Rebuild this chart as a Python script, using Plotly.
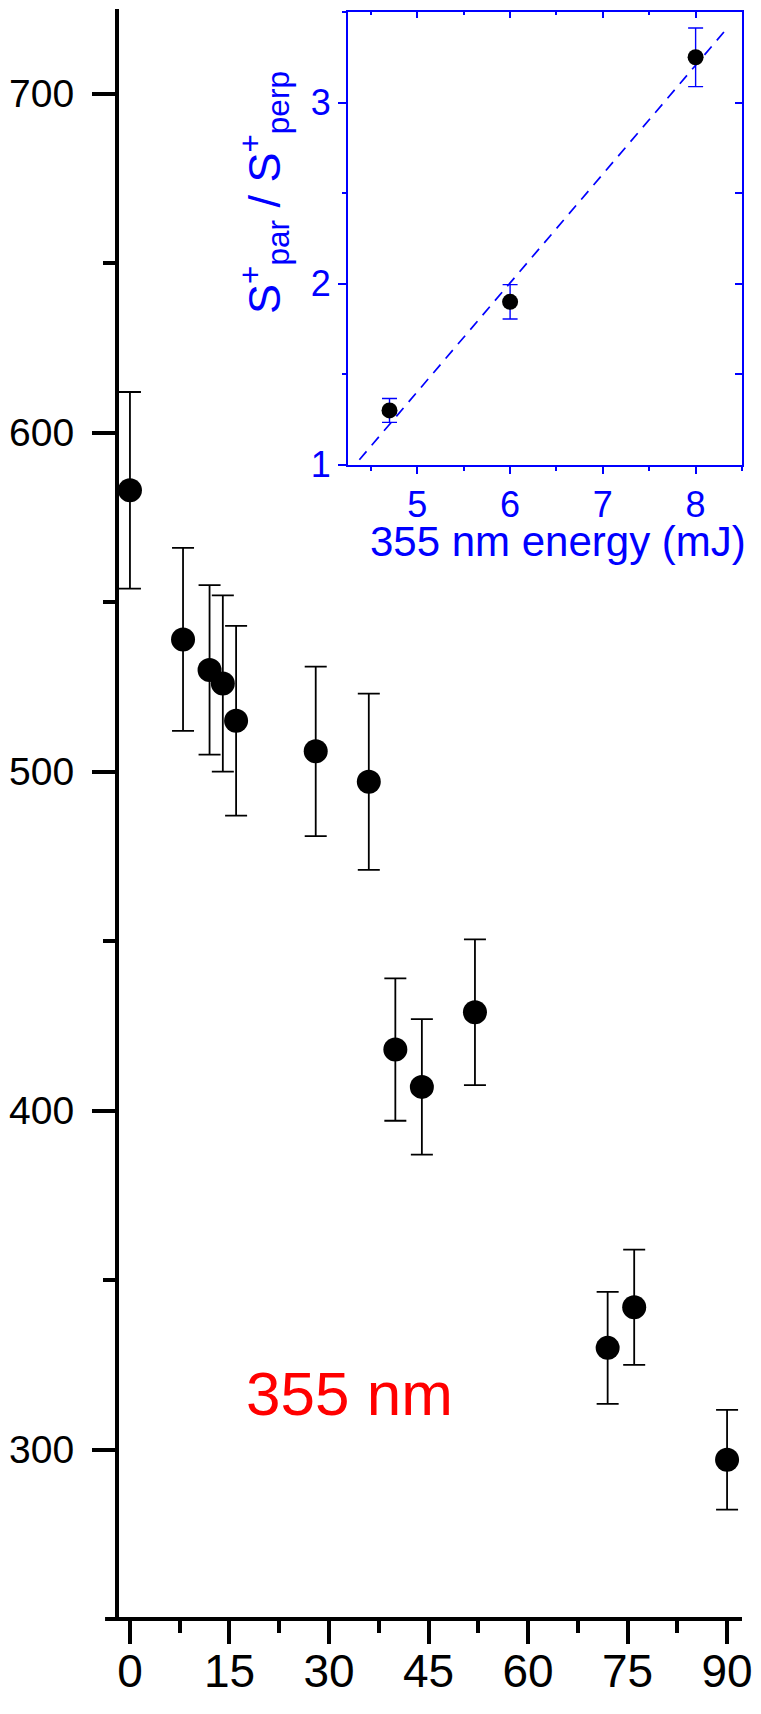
import plotly.graph_objects as go

# ---- main panel data ----
angle = [0, 8, 12, 14, 16, 28, 36, 40, 44, 52, 72, 76, 90]
signal = [583, 539, 530, 526, 515, 506, 497, 418, 407, 429, 330, 342, 297]
signal_err = [29, 27, 25, 26, 28, 25, 26, 21, 20, 21.5, 16.5, 17, 14.7]

x_ticks = [0, 15, 30, 45, 60, 75, 90]
y_ticks = [300, 400, 500, 600, 700]

# ---- inset data ----
energy = [4.7, 6.0, 8.0]
ratio = [1.30, 1.90, 3.25]
ratio_err = [0.066, 0.095, 0.162]
fit_energy = [4.375, 8.333]
fit_ratio = [1.028, 3.406]

inset_x_ticks = [5, 6, 7, 8]
inset_y_ticks = [1, 2, 3]

BLUE = "#0000ff"
OFF = 8                       # default page margin of the html body
W, H = 761 - OFF, 1714 - OFF  # figure size so that the page fits the window
L, R, T, B = 117, 742, 9, 1617  # plot area in window pixels


def px(x):
    return (x - L) / (R - L)


def py(y):
    return (B - y) / (B - T)


fig = go.Figure()

fig.add_trace(go.Scatter(
    x=angle, y=signal, mode="markers",
    marker=dict(size=24, color="black"),
    error_y=dict(type="data", array=signal_err, color="black", thickness=1.8, width=11),
    xaxis="x", yaxis="y", showlegend=False, cliponaxis=False,
))

fig.add_trace(go.Scatter(
    x=fit_energy, y=fit_ratio, mode="lines",
    line=dict(color=BLUE, width=1.7, dash="11px,8px"),
    xaxis="x2", yaxis="y2", showlegend=False,
))
fig.add_trace(go.Scatter(
    x=energy, y=ratio, mode="markers",
    marker=dict(size=16, color="black"),
    error_y=dict(type="data", array=ratio_err, color=BLUE, thickness=1.4, width=7.5),
    xaxis="x2", yaxis="y2", showlegend=False, cliponaxis=False,
))
# invisible trace for the mirrored (inside-tick) inset axes
fig.add_trace(go.Scatter(
    x=[energy[0]], y=[ratio[0]], mode="markers", marker=dict(opacity=0),
    xaxis="x3", yaxis="y3", showlegend=False, hoverinfo="skip",
))

FONT = "Liberation Sans, Arial, sans-serif"
main_tick_font_y = dict(family=FONT, size=39, color="black")
main_tick_font_x = dict(family=FONT, size=46, color="black")
inset_font = dict(family=FONT, size=36, color=BLUE)

inset_xr = [4.25, 8.5]
inset_yr = [1, 3.5]
inset_line = dict(showline=True, linewidth=1.8, linecolor=BLUE, showgrid=False, zeroline=False)

fig.update_layout(
    width=W, height=H,
    margin=dict(l=L - OFF, r=W - (R - OFF), t=T - OFF, b=H - (B - OFF), pad=0),
    paper_bgcolor="white", plot_bgcolor="rgba(0,0,0,0)",
    xaxis=dict(
        domain=[0, 1], range=[-1.65, 92.25], anchor="y",
        tickvals=x_ticks, ticktext=[str(v) for v in x_ticks],
        ticks="outside", ticklen=23, tickwidth=4, tickcolor="black",
        showline=True, linewidth=4, linecolor="black",
        showgrid=False, zeroline=False, tickfont=main_tick_font_x,
        ticklabelstandoff=-12,
        minor=dict(ticks="outside", ticklen=12, tickwidth=4, tickcolor="black", dtick=7.5, tick0=0),
    ),
    yaxis=dict(
        domain=[0, 1], range=[250.6, 725], anchor="x",
        tickvals=y_ticks, ticktext=[str(v) for v in y_ticks],
        ticks="outside", ticklen=23, tickwidth=4, tickcolor="black",
        showline=True, linewidth=4, linecolor="black",
        showgrid=False, zeroline=False, tickfont=main_tick_font_y,
        ticklabelstandoff=10,
        minor=dict(ticks="outside", ticklen=12, tickwidth=4, tickcolor="black", dtick=50, tick0=0),
    ),
    xaxis2=dict(
        domain=[px(346.5), 1.0], range=inset_xr, anchor="y2",
        tickvals=inset_x_ticks, ticktext=[str(v) for v in inset_x_ticks],
        ticks="outside", ticklen=7, tickwidth=1.5, tickcolor=BLUE,
        tickfont=inset_font, **inset_line,
        minor=dict(ticks="outside", ticklen=4, tickwidth=1.5, tickcolor=BLUE, dtick=0.5, tick0=0),
    ),
    yaxis2=dict(
        domain=[py(464.8), py(12)], range=inset_yr, anchor="x2",
        tickvals=inset_y_ticks, ticktext=[str(v) for v in inset_y_ticks],
        ticks="outside", ticklen=8, tickwidth=1.5, tickcolor=BLUE,
        tickfont=inset_font, **inset_line,
        minor=dict(ticks="outside", ticklen=4, tickwidth=1.5, tickcolor=BLUE, dtick=0.5, tick0=0),
    ),
    xaxis3=dict(
        overlaying="x2", side="top", anchor="y3", range=inset_xr,
        tickvals=inset_x_ticks, showticklabels=False,
        ticks="inside", ticklen=6, tickwidth=1.5, tickcolor=BLUE, **inset_line,
        minor=dict(ticks="inside", ticklen=3, tickwidth=1.5, tickcolor=BLUE, dtick=0.5, tick0=0),
    ),
    yaxis3=dict(
        overlaying="y2", side="right", anchor="x3", range=inset_yr,
        tickvals=inset_y_ticks, showticklabels=False,
        ticks="inside", ticklen=7, tickwidth=1.5, tickcolor=BLUE, **inset_line,
        minor=dict(ticks="inside", ticklen=7, tickwidth=1.5, tickcolor=BLUE, dtick=0.5, tick0=0),
    ),
    shapes=[dict(type="line", xref="paper", yref="paper",
                 x0=px(103), x1=0, y0=py(1619), y1=py(1619),
                 line=dict(color="black", width=4))],
    annotations=[
        dict(text="355 nm", x=px(348), y=py(1393), xref="paper", yref="paper",
             xanchor="center", yanchor="middle", showarrow=False,
             font=dict(family=FONT, size=62, color="red")),
        dict(text="355 nm energy (mJ)", x=px(557.7), y=py(541), xref="paper", yref="paper",
             xanchor="center", yanchor="middle", showarrow=False,
             font=dict(family=FONT, size=42, color=BLUE)),
        dict(text="S<sup>+</sup><sub>par</sub> / S<sup>+</sup><sub>perp</sub>",
             x=px(262), y=py(192.5), xref="paper", yref="paper",
             xanchor="center", yanchor="middle", showarrow=False, textangle=-90,
             font=dict(family=FONT, size=45, color=BLUE)),
    ],
)

fig.write_html("out.html")
